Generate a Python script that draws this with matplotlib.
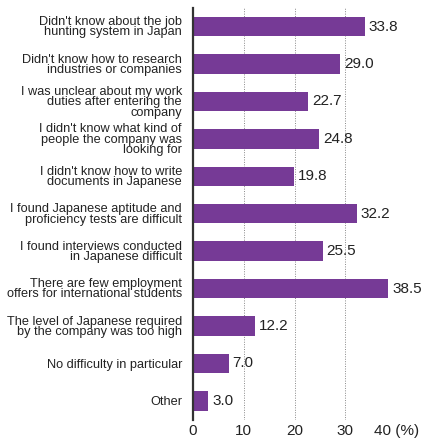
import matplotlib.pyplot as plt

plt.rcParams['font.family'] = ['Liberation Sans', 'DejaVu Sans']

labels = [
    "Didn't know about the job\nhunting system in Japan",
    "Didn't know how to research\nindustries or companies",
    "I was unclear about my work\nduties after entering the\ncompany",
    "I didn't know what kind of\npeople the company was\nlooking for",
    "I didn't know how to write\ndocuments in Japanese",
    "I found Japanese aptitude and\nproficiency tests are difficult",
    "I found interviews conducted\nin Japanese difficult",
    "There are few employment\noffers for international students",
    "The level of Japanese required\nby the company was too high",
    "No difficulty in particular",
    "Other",
]
values = [33.8, 29.0, 22.7, 24.8, 19.8, 32.2, 25.5, 38.5, 12.2, 7.0, 3.0]
ticks = [0, 10, 20, 30, 40]
tick_labels = ["0", "10", "20", "30", "40 (%)"]

fig = plt.figure(figsize=(4.31, 4.38), dpi=100)
ax = fig.add_axes([0.448, 0.042, 0.471, 0.940])

ypos = list(range(len(values)))
ax.barh(ypos, values, height=0.52, color='#763a96', zorder=3)
for y, v in zip(ypos, values):
    ax.text(v + 0.8, y, f"{v:.1f}", va='center', ha='left', fontsize=11,
            color='#222222', zorder=4)

ax.set_ylim(len(values) - 0.5, -0.5)
ax.set_xlim(0, 40)
ax.set_yticks(ypos)
ax.set_yticklabels(labels, fontsize=9.2, linespacing=0.82, color='#222222')
ax.set_xticks(ticks)
ax.set_xticklabels(tick_labels, fontsize=11, color='#222222')
ax.tick_params(axis='both', length=0, pad=3)
ax.tick_params(axis='y', pad=8)

ax.grid(axis='x', color='#888888', linestyle=(0, (1, 1.5)), linewidth=0.7, zorder=0)
for s in ['top', 'right', 'bottom']:
    ax.spines[s].set_visible(False)
ax.spines['left'].set_color('#333333')
ax.spines['left'].set_linewidth(1.6)
ax.spines['left'].set_zorder(5)

fig.savefig('out.png', dpi=100)
